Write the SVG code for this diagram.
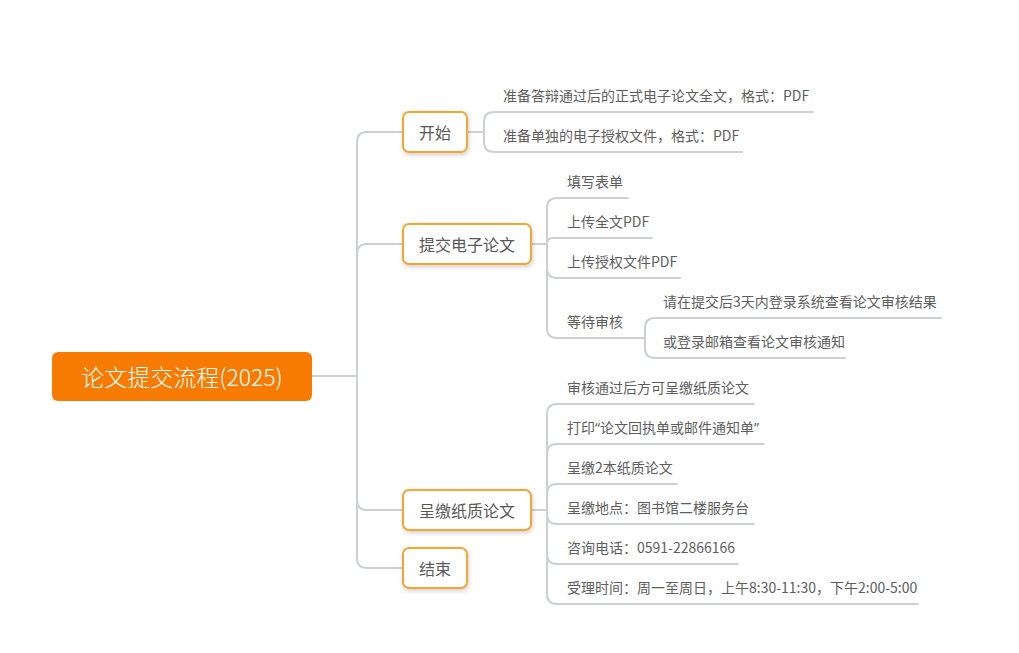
<svg xmlns="http://www.w3.org/2000/svg" width="1019" height="653" viewBox="0 0 1019 653">
<defs>
<style>
.ln{fill:none;stroke:#CDD0D2;stroke-width:2;stroke-linecap:round}
.nd{fill:#FFFFFF;stroke:#F3A535;stroke-width:2}
.nt{font-family:"Noto Sans CJK SC","Noto Sans",sans-serif;font-size:16px;fill:#595959;text-anchor:middle;dominant-baseline:central}
.ct{font-family:"Noto Sans CJK SC","Noto Sans",sans-serif;font-size:14px;fill:#5E5E5E}
.rt{font-family:"Noto Sans CJK SC","Noto Sans",sans-serif;font-size:23px;font-weight:300;fill:#FFFFFF;text-anchor:middle;dominant-baseline:central}
.q{font-family:"Noto Sans","Open Sans",sans-serif}
</style>
<filter id="sh" x="-20%" y="-20%" width="140%" height="160%">
<feDropShadow dx="1" dy="2" stdDeviation="2" flood-color="#000000" flood-opacity="0.18"/>
</filter>
</defs>
<rect width="1019" height="653" fill="#FFFFFF"/>
<g id="connectors">
<path class="ln" d="M312,376 H357"/>
<path class="ln" d="M357,376 V142 Q357,132 367,132 H403"/>
<path class="ln" d="M357,376 V254 Q357,244 367,244 H403"/>
<path class="ln" d="M357,376 V500 Q357,510 367,510 H403"/>
<path class="ln" d="M357,376 V558 Q357,568 367,568 H403"/>
<path class="ln" d="M467,132 H484"/>
<path class="ln" d="M484,132 V122 Q484,112 494,112 H813"/>
<path class="ln" d="M484,132 V142 Q484,152 494,152 H742"/>
<path class="ln" d="M531,244 H547"/>
<path class="ln" d="M547,244 V208 Q547,198 557,198 H628"/>
<path class="ln" d="M547,244 Q547,238 553,238 H652"/>
<path class="ln" d="M547,244 V268 Q547,278 557,278 H680"/>
<path class="ln" d="M547,244 V328 Q547,338 557,338 H645"/>
<path class="ln" d="M645,338 V328 Q645,318 655,318 H941"/>
<path class="ln" d="M645,338 V348 Q645,358 655,358 H845"/>
<path class="ln" d="M531,510 H547"/>
<path class="ln" d="M547,510 V414 Q547,404 557,404 H754"/>
<path class="ln" d="M547,510 V454 Q547,444 557,444 H764"/>
<path class="ln" d="M547,510 V494 Q547,484 557,484 H677"/>
<path class="ln" d="M547,510 V514 Q547,524 557,524 H754"/>
<path class="ln" d="M547,510 V554 Q547,564 557,564 H738"/>
<path class="ln" d="M547,510 V594 Q547,604 557,604 H918"/>
</g>
<g id="root">
<rect x="52" y="352" width="260" height="49" rx="6" fill="#F77B00"/>
<text class="rt" x="182" y="376">论文提交流程(2025)</text>
</g>
<g id="node-start">
<rect class="nd" x="403" y="112" width="64" height="40" rx="6" filter="url(#sh)"/>
<text class="nt" x="435" y="132">开始</text>
</g>
<g id="node-submit">
<rect class="nd" x="403" y="224" width="128" height="40" rx="6" filter="url(#sh)"/>
<text class="nt" x="467" y="244">提交电子论文</text>
</g>
<g id="node-paper">
<rect class="nd" x="403" y="490" width="128" height="40" rx="6" filter="url(#sh)"/>
<text class="nt" x="467" y="510">呈缴纸质论文</text>
</g>
<g id="node-end">
<rect class="nd" x="403" y="548" width="64" height="40" rx="6" filter="url(#sh)"/>
<text class="nt" x="435" y="568">结束</text>
</g>
<g id="start-children">
<text class="ct" x="503" y="101">准备答辩通过后的正式电子论文全文，格式：PDF</text>
<text class="ct" x="503" y="141">准备单独的电子授权文件，格式：PDF</text>
</g>
<g id="submit-children">
<text class="ct" x="567" y="187">填写表单</text>
<text class="ct" x="567" y="227">上传全文PDF</text>
<text class="ct" x="567" y="267">上传授权文件PDF</text>
<text class="ct" x="567" y="327">等待审核</text>
</g>
<g id="review-children">
<text class="ct" x="663" y="307">请在提交后3天内登录系统查看论文审核结果</text>
<text class="ct" x="663" y="347">或登录邮箱查看论文审核通知</text>
</g>
<g id="paper-children">
<text class="ct" x="567" y="393">审核通过后方可呈缴纸质论文</text>
<text class="ct" x="567" y="433">打印<tspan class="q">“</tspan>论文回执单或邮件通知单<tspan class="q">”</tspan></text>
<text class="ct" x="567" y="473">呈缴2本纸质论文</text>
<text class="ct" x="567" y="513">呈缴地点：图书馆二楼服务台</text>
<text class="ct" x="567" y="553">咨询电话：0591-22866166</text>
<text class="ct" x="567" y="593">受理时间：周一至周日，上午8:30-11:30，下午2:00-5:00</text>
</g>
</svg>
